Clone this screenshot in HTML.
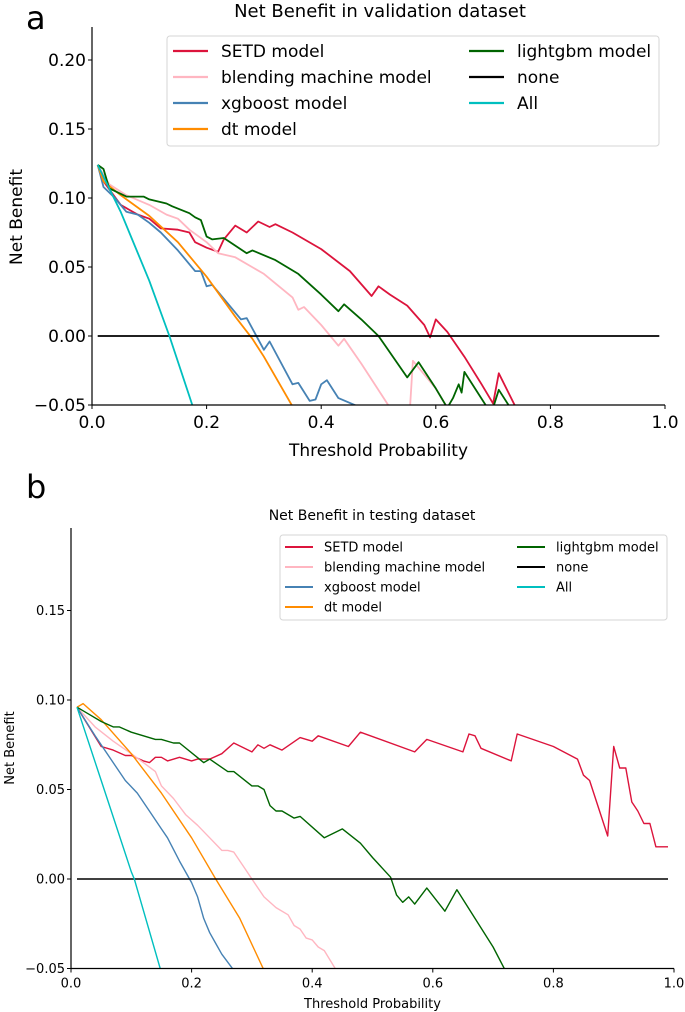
<!DOCTYPE html>
<html><head><meta charset="utf-8"><style>
html,body{margin:0;padding:0;background:#fff;}
svg{display:block;font-family:"DejaVu Sans","Liberation Sans",sans-serif;}
</style></head><body>
<svg id="fig" width="685" height="1012" viewBox="0 0 685 1012" xmlns="http://www.w3.org/2000/svg"></svg>
<script>
// ---------- DATA: panel a (validation) ----------
const seriesNames = ["SETD model","blending machine model","xgboost model","dt model","lightgbm model","none","All"];
const seriesColors = ["#dc143c","#ffb6c1","#4682b4","#ff8c00","#006400","#000000","#00bfbf"];
const aSetdX = [0.01,0.02,0.05,0.08,0.1,0.12,0.15,0.17,0.18,0.2,0.22,0.23,0.25,0.27,0.29,0.31,0.32,0.35,0.4,0.45,0.488,0.5,0.52,0.55,0.58,0.59,0.6,0.62,0.65,0.68,0.7,0.71,0.74];
const aSetdY = [0.124,0.112,0.095,0.088,0.085,0.078,0.077,0.075,0.068,0.064,0.061,0.07,0.08,0.075,0.083,0.079,0.081,0.075,0.063,0.047,0.029,0.036,0.03,0.022,0.008,-0.001,0.012,0.003,-0.015,-0.035,-0.049,-0.027,-0.052];
const aBlendX = [0.01,0.03,0.06,0.1,0.13,0.15,0.17,0.2,0.22,0.25,0.3,0.35,0.36,0.37,0.4,0.43,0.44,0.47,0.52,0.555,0.56,0.58,0.6,0.62];
const aBlendY = [0.124,0.11,0.102,0.095,0.088,0.085,0.077,0.068,0.06,0.057,0.045,0.028,0.019,0.021,0.008,-0.007,-0.002,-0.02,-0.052,-0.052,-0.018,-0.028,-0.038,-0.052];
const aXgbX = [0.01,0.02,0.04,0.06,0.08,0.1,0.12,0.15,0.18,0.19,0.2,0.21,0.23,0.26,0.27,0.3,0.31,0.35,0.36,0.38,0.39,0.4,0.41,0.43,0.47];
const aXgbY = [0.124,0.108,0.1,0.09,0.088,0.082,0.075,0.062,0.047,0.047,0.036,0.037,0.027,0.012,0.013,-0.01,-0.004,-0.035,-0.034,-0.047,-0.046,-0.035,-0.032,-0.045,-0.052];
const aDtX = [0.01,0.02,0.05,0.1,0.15,0.2,0.25,0.28,0.3,0.35];
const aDtY = [0.124,0.112,0.102,0.087,0.068,0.043,0.014,-0.002,-0.015,-0.051];
const aLgbX = [0.01,0.02,0.03,0.06,0.09,0.1,0.13,0.14,0.17,0.18,0.19,0.2,0.21,0.23,0.27,0.28,0.32,0.36,0.4,0.43,0.44,0.47,0.5,0.55,0.57,0.6,0.62,0.63,0.64,0.645,0.65,0.69,0.7,0.71,0.73];
const aLgbY = [0.124,0.121,0.107,0.101,0.101,0.099,0.096,0.094,0.089,0.086,0.084,0.072,0.07,0.071,0.06,0.062,0.055,0.045,0.03,0.018,0.023,0.012,0.0,-0.03,-0.019,-0.038,-0.052,-0.045,-0.035,-0.041,-0.026,-0.052,-0.052,-0.039,-0.052];
const aNoneX = [0.01,0.99];
const aNoneY = [0,0];
const aAllX = [0.01,0.05,0.1,0.135,0.175];
const aAllY = [0.124,0.09,0.04,0.0,-0.05];
// ---------- DATA: panel b (testing) ----------
const bSetdX = [0.01,0.03,0.05,0.07,0.09,0.1,0.12,0.13,0.14,0.15,0.16,0.18,0.2,0.21,0.23,0.25,0.27,0.3,0.31,0.32,0.33,0.35,0.38,0.4,0.41,0.46,0.48,0.57,0.59,0.65,0.66,0.67,0.68,0.73,0.74,0.8,0.84,0.85,0.86,0.89,0.9,0.91,0.92,0.93,0.94,0.95,0.96,0.97,0.99];
const bSetdY = [0.096,0.085,0.074,0.072,0.069,0.069,0.066,0.065,0.068,0.068,0.066,0.068,0.066,0.067,0.067,0.07,0.076,0.071,0.075,0.073,0.075,0.072,0.079,0.077,0.08,0.074,0.082,0.071,0.078,0.071,0.081,0.08,0.073,0.066,0.081,0.074,0.067,0.058,0.055,0.024,0.074,0.062,0.062,0.043,0.038,0.031,0.031,0.018,0.018];
const bBlendX = [0.01,0.04,0.07,0.1,0.12,0.14,0.15,0.17,0.19,0.21,0.23,0.25,0.26,0.27,0.29,0.3,0.32,0.34,0.36,0.37,0.38,0.39,0.4,0.41,0.42,0.44];
const bBlendY = [0.096,0.085,0.077,0.07,0.065,0.06,0.052,0.045,0.036,0.03,0.023,0.016,0.016,0.015,0.005,0.0,-0.01,-0.016,-0.02,-0.026,-0.028,-0.033,-0.034,-0.038,-0.04,-0.051];
const bXgbX = [0.01,0.04,0.07,0.09,0.11,0.13,0.15,0.16,0.18,0.2,0.21,0.22,0.23,0.24,0.25,0.27];
const bXgbY = [0.096,0.08,0.065,0.055,0.048,0.038,0.028,0.023,0.01,-0.002,-0.01,-0.022,-0.03,-0.036,-0.042,-0.051];
const bDtX = [0.01,0.02,0.05,0.1,0.15,0.2,0.24,0.28,0.32];
const bDtY = [0.096,0.098,0.089,0.07,0.048,0.023,0.0,-0.022,-0.051];
const bLgbX = [0.01,0.03,0.05,0.07,0.08,0.1,0.12,0.14,0.15,0.17,0.18,0.22,0.23,0.26,0.27,0.3,0.31,0.32,0.33,0.34,0.35,0.37,0.38,0.42,0.45,0.48,0.5,0.53,0.54,0.55,0.56,0.57,0.59,0.62,0.64,0.67,0.7,0.72];
const bLgbY = [0.096,0.092,0.088,0.085,0.085,0.082,0.08,0.078,0.078,0.076,0.076,0.065,0.067,0.06,0.06,0.052,0.052,0.05,0.041,0.038,0.038,0.034,0.035,0.023,0.028,0.02,0.012,0.001,-0.009,-0.013,-0.01,-0.014,-0.005,-0.018,-0.006,-0.022,-0.038,-0.051];
const bNoneX = [0.01,0.99];
const bNoneY = [0,0];
const bAllX = [0.01,0.05,0.1,0.105,0.148];
const bAllY = [0.096,0.055,0.004,0.0,-0.05];
const xTicks = [0.0,0.2,0.4,0.6,0.8,1.0];
const xTickLabels = ["0.0","0.2","0.4","0.6","0.8","1.0"];
const aYTicks = [-0.05,0.0,0.05,0.10,0.15,0.20];
const aYTickLabels = ["\u22120.05","0.00","0.05","0.10","0.15","0.20"];
const bYTicks = [-0.05,0.0,0.05,0.10,0.15];
const bYTickLabels = ["\u22120.05","0.00","0.05","0.10","0.15"];

const NS = "http://www.w3.org/2000/svg";
const svg = document.getElementById("fig");
function mk(tag, attrs, parent, text){
  const e = document.createElementNS(NS, tag);
  for (const k in attrs) e.setAttribute(k, attrs[k]);
  if (text !== undefined) e.textContent = text;
  (parent || svg).appendChild(e);
  return e;
}

function panel(cfg){
  const g = mk("g", {});
  
  
  const sx = v => cfg.x0 + (v - 0) * (cfg.x1 - cfg.x0);
  const sy = v => cfg.yZero - v * cfg.yPerUnit;
  const clipId = cfg.name + "-clip";
  const defs = mk("defs", {}, g);
  const cp = mk("clipPath", {id: clipId}, defs);
  mk("rect", {x: cfg.x0, y: cfg.yTop, width: cfg.x1 - cfg.x0 + 2, height: sy(-0.05) - cfg.yTop}, cp);
  // series
  const plot = mk("g", {"clip-path": "url(#" + clipId + ")"}, g);
  cfg.series.forEach((s, i) => {
    const pts = s[0].map((x, j) => sx(x).toFixed(1) + "," + sy(s[1][j]).toFixed(1)).join(" ");
    const pl = mk("polyline", {points: pts, fill: "none", stroke: seriesColors[i], "stroke-width": cfg.lw, "stroke-linejoin": "round"}, plot);
    
    
  });
  // axes
  const yb = sy(-0.05);
  const ax = mk("line", {x1: cfg.x0, y1: yb, x2: cfg.x1, y2: yb, stroke: "#000", "stroke-width": 1.2}, g);
  
  
  const ay = mk("line", {x1: cfg.x0, y1: cfg.yTop, x2: cfg.x0, y2: yb, stroke: "#000", "stroke-width": 1.2}, g);
  
  
  xTicks.forEach((t, i) => {
    mk("line", {x1: sx(t), y1: yb, x2: sx(t), y2: yb + 4, stroke: "#000", "stroke-width": 1}, g);
    const tl = mk("text", {x: sx(t), y: yb + cfg.tickFs + 6, "font-size": cfg.tickFs, "text-anchor": "middle", fill: "#000"}, g, xTickLabels[i]);
    
    
  });
  cfg.yTicks.forEach((t, i) => {
    mk("line", {x1: cfg.x0 - 4, y1: sy(t), x2: cfg.x0, y2: sy(t), stroke: "#000", "stroke-width": 1}, g);
    const tl = mk("text", {x: cfg.x0 - 6, y: sy(t) + cfg.tickFs * 0.36, "font-size": cfg.tickFs, "text-anchor": "end", fill: "#000"}, g, cfg.yTickLabels[i]);
    
    
  });
  const xl = mk("text", {x: (cfg.x0 + cfg.x1) / 2, y: cfg.xlabY, "font-size": cfg.labFs, "text-anchor": "middle"}, g, "Threshold Probability");
  
  
  const yl = mk("text", {x: 0, y: 0, "font-size": cfg.labFs, "text-anchor": "middle", transform: "translate(" + cfg.ylabX + "," + cfg.ylabY + ") rotate(-90)"}, g, "Net Benefit");
  
  
  const ti = mk("text", {x: cfg.titleX, y: cfg.titleY, "font-size": cfg.titleFs, "text-anchor": "middle"}, g, cfg.title);
  
  
  const pl = mk("text", {x: 26, y: cfg.letterY, "font-size": 32}, g, cfg.letter);
  
  
  // legend
  const L = cfg.leg;
  const lg = mk("g", {}, g);
  
  
  mk("rect", {x: L.x, y: L.y, width: L.w, height: L.h, rx: 3, fill: "#fff", "fill-opacity": 0.8, stroke: "#d6d6d6", "stroke-width": 1}, lg);
  const order = [[0,0],[1,0],[2,0],[3,0],[4,1],[5,1],[6,1]];
  order.forEach((o, k) => {
    const i = o[0], col = o[1];
    const row = col === 0 ? i : i - 4;
    const cy = L.rowY + row * L.rowH;
    const lx = col === 0 ? L.c1 : L.c2;
    const ent = mk("g", {}, lg);
    
    
    mk("line", {x1: lx, y1: cy, x2: lx + L.lineW, y2: cy, stroke: seriesColors[i], "stroke-width": cfg.lw + 0.5}, ent);
    mk("text", {x: lx + L.lineW + L.gap, y: cy + L.fs * 0.36, "font-size": L.fs}, ent, seriesNames[i]);
  });
}

panel({
  name: "chart-validation", letter: "a", letterY: 29,
  x0: 92, x1: 665, yZero: 336, yPerUnit: 1380, yTop: 27, lw: 1.8,
  series: [[aSetdX,aSetdY],[aBlendX,aBlendY],[aXgbX,aXgbY],[aDtX,aDtY],[aLgbX,aLgbY],[aNoneX,aNoneY],[aAllX,aAllY]],
  yTicks: aYTicks, yTickLabels: aYTickLabels, tickFs: 17, labFs: 17,
  xlabY: 456, ylabX: 22, ylabY: 217, title: "Net Benefit in validation dataset", titleX: 380, titleY: 17, titleFs: 18,
  leg: {x: 167, y: 36, w: 492, h: 110, rowY: 51, rowH: 26, c1: 173, c2: 469, lineW: 35, gap: 13, fs: 17}
});
panel({
  name: "chart-testing", letter: "b", letterY: 498,
  x0: 71, x1: 674, yZero: 879, yPerUnit: 1790, yTop: 528, lw: 1.4,
  series: [[bSetdX,bSetdY],[bBlendX,bBlendY],[bXgbX,bXgbY],[bDtX,bDtY],[bLgbX,bLgbY],[bNoneX,bNoneY],[bAllX,bAllY]],
  yTicks: bYTicks, yTickLabels: bYTickLabels, tickFs: 13, labFs: 13,
  xlabY: 1008, ylabX: 14, ylabY: 748, title: "Net Benefit in testing dataset", titleX: 372, titleY: 520, titleFs: 14,
  leg: {x: 280, y: 535, w: 387, h: 85, rowY: 547, rowH: 20, c1: 285, c2: 517, lineW: 28, gap: 11, fs: 13}
});
</script>
</body></html>
